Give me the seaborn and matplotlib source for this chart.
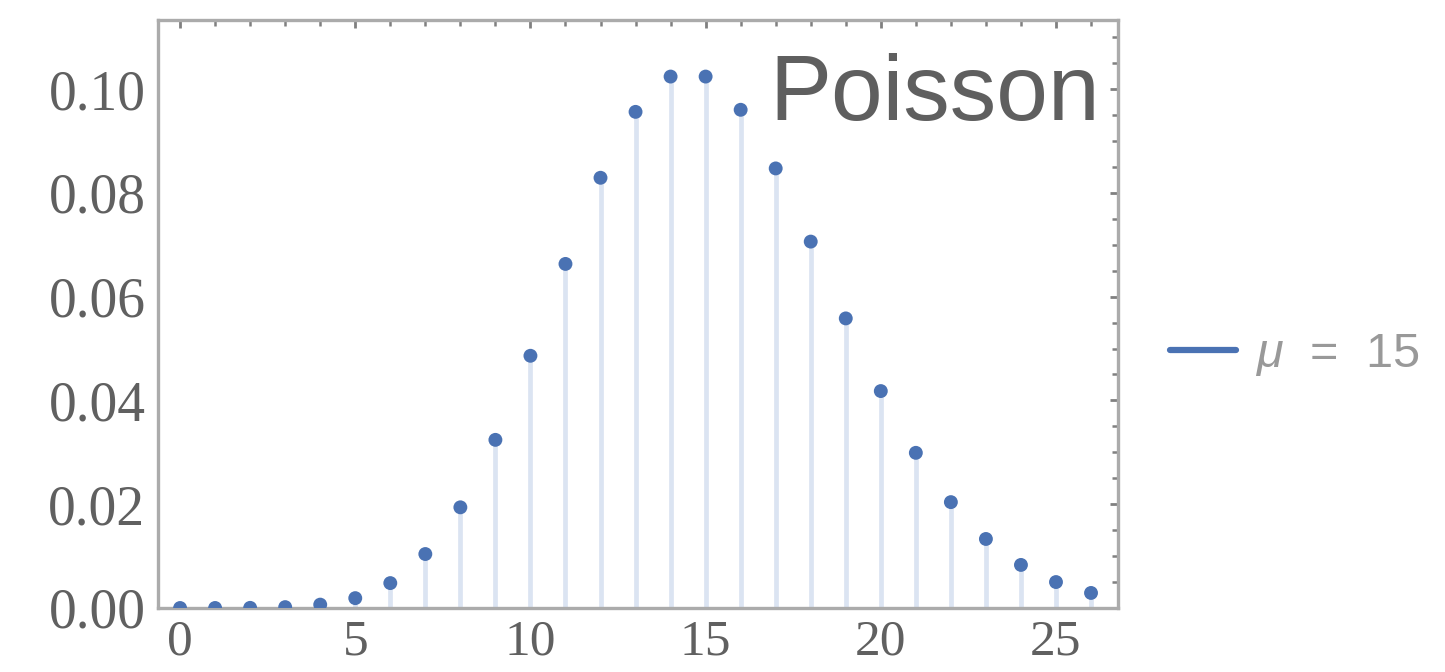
import matplotlib
matplotlib.use("Agg")
import matplotlib.pyplot as plt
from matplotlib.lines import Line2D
from matplotlib.ticker import MultipleLocator, FormatStrFormatter
import seaborn as sns
import pandas as pd

# Poisson probabilities, mean 15
counts = list(range(27))
probabilities = [0.0000003, 0.000005, 0.00003, 0.00017, 0.00065, 0.0019,
                 0.0048, 0.0104, 0.0194, 0.0324, 0.0486, 0.0663, 0.0829,
                 0.0956, 0.1024, 0.1024, 0.0960, 0.0847, 0.0706, 0.0558,
                 0.0418, 0.0299, 0.0204, 0.0133, 0.0083, 0.0050, 0.0029]
series_label = r"$\mu$  =  15"
title_text = "Poisson"

df = pd.DataFrame({"k": counts, "p": probabilities})

sns.set_style("white")
plt.rcParams["font.family"] = ["Liberation Sans", "DejaVu Sans"]
plt.rcParams["mathtext.fontset"] = "custom"
plt.rcParams["mathtext.it"] = "Liberation Sans:italic"
plt.rcParams["mathtext.rm"] = "Liberation Sans"

W, H = 1445, 672
fig = plt.figure(figsize=(W / 100, H / 100), dpi=100)
left, right, top, bottom = 158, 1118, 20, 608
ax = fig.add_axes([left / W, 1 - bottom / H, (right - left) / W, (bottom - top) / H])

point_color = "#4a72b3"
stem_color = "#dbe4f2"

ax.vlines(df["k"], 0, df["p"], color=stem_color, linewidth=3.4, zorder=1)
sns.scatterplot(data=df, x="k", y="p", ax=ax, color=point_color, s=100,
                edgecolor="none", zorder=3, legend=False)

ax.set_xlim(-0.63, 26.77)
ax.set_ylim(0, 0.1133)
ax.set_xlabel("")
ax.set_ylabel("")

ax.xaxis.set_major_locator(MultipleLocator(5))
ax.xaxis.set_minor_locator(MultipleLocator(1))
ax.yaxis.set_major_locator(MultipleLocator(0.02))
ax.yaxis.set_minor_locator(MultipleLocator(0.005))
ax.yaxis.set_major_formatter(FormatStrFormatter("%.2f"))

frame_color = "#ababab"
for sp in ax.spines.values():
    sp.set_color(frame_color)
    sp.set_linewidth(2.4)

ax.tick_params(which="both", direction="in", top=True, right=True,
               color="#808080")
ax.tick_params(which="major", length=6, width=2.0)
ax.tick_params(which="minor", length=4, width=1.8)
ax.tick_params(axis="x", which="major", pad=8)
ax.tick_params(axis="y", which="major", pad=9)
for lab in ax.get_xticklabels():
    lab.set_fontfamily("Liberation Serif")
    lab.set_fontsize(37)
    lab.set_color("#606060")
for lab in ax.get_yticklabels():
    lab.set_fontfamily("Liberation Serif")
    lab.set_fontsize(40)
    lab.set_color("#606060")

fig.text(1100 / W, 1 - 120 / H, title_text, ha="right", va="baseline",
         fontsize=67, color="#5f5f5f", family="Liberation Sans")

handle = Line2D([0], [0], color=point_color, linewidth=4.5)
leg = fig.legend([handle], [series_label], loc="center left",
                 bbox_to_anchor=(1170 / W, 1 - 355 / H), frameon=False,
                 fontsize=35, handlelength=1.35, handletextpad=0.4,
                 borderaxespad=0, borderpad=0)
for t in leg.get_texts():
    t.set_color("#999999")

fig.savefig("out.png", dpi=100)
